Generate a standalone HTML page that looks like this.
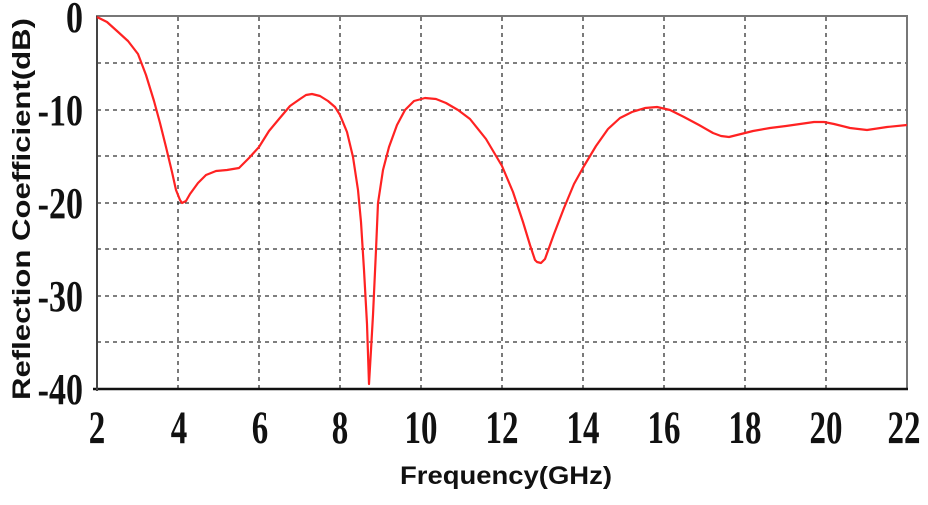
<!DOCTYPE html>
<html><head><style>body{margin:0;background:#fff}</style></head><body>
<svg width="928" height="500" xmlns="http://www.w3.org/2000/svg">
<g stroke="#333" stroke-width="1.3" stroke-dasharray="4,4">
<line x1="178" y1="17" x2="178" y2="389"/><line x1="259" y1="17" x2="259" y2="389"/><line x1="340" y1="17" x2="340" y2="389"/><line x1="421" y1="17" x2="421" y2="389"/><line x1="502" y1="17" x2="502" y2="389"/><line x1="583" y1="17" x2="583" y2="389"/><line x1="664" y1="17" x2="664" y2="389"/><line x1="745" y1="17" x2="745" y2="389"/><line x1="826" y1="17" x2="826" y2="389"/>
<line x1="97" y1="63" x2="907" y2="63"/><line x1="97" y1="110" x2="907" y2="110"/><line x1="97" y1="156" x2="907" y2="156"/><line x1="97" y1="203" x2="907" y2="203"/><line x1="97" y1="249" x2="907" y2="249"/><line x1="97" y1="296" x2="907" y2="296"/><line x1="97" y1="342" x2="907" y2="342"/>
</g>
<rect x="97" y="16" width="810" height="373" fill="none" stroke="#777" stroke-width="2"/>
<line x1="93" y1="389" x2="908" y2="389" stroke="#111" stroke-width="2.5"/>
<line x1="97" y1="16" x2="97" y2="391" stroke="#444" stroke-width="2"/>
<polyline fill="none" stroke="#f22" stroke-width="2.2" stroke-linejoin="round" points="97,17 107,22 117,31 128,41 138,54 146,75 154,101 160,123 166,147 172,172 176,190 180,200 182,203 186,201 190,194 198,183 206,175 216,171 227,170 239,168 249,158 259,147 269,131 279,119 290,106 300,99 306,95 312,94 320,96 328,101 335,107 340,115 347,132 353,157 358,190 361,222 364,270 367,324 369,384 371,350 373,315 376,250 378,203 383,170 389,147 397,125 405,110 414,101 425,98 436,99 446,103 458,110 470,119 486,139 502,166 513,192 523,222 530,245 535,260 537,262 541,263 545,259 554,234 564,208 574,184 584,166 596,146 608,129 620,118 632,112 645,108 657,107 670,110 684,117 699,125 713,133 721,136 729,137 741,134 753,131 770,128 786,126 800,124 814,122 824,122 834,124 850,128 867,130 887,127 907,125"/>
<g font-family="'Liberation Serif',serif" font-weight="bold" font-size="34" fill="#111" text-anchor="end">
<text transform="translate(83,32) scale(1,1.3)">0</text>
<text transform="translate(83,125) scale(1,1.3)">-10</text>
<text transform="translate(83,218) scale(1,1.3)">-20</text>
<text transform="translate(83,311) scale(1,1.3)">-30</text>
<text transform="translate(83,404) scale(1,1.3)">-40</text>
</g>
<g font-family="'Liberation Serif',serif" font-weight="bold" font-size="33" fill="#111" text-anchor="middle">
<text transform="translate(97,443) scale(1,1.4)">2</text>
<text transform="translate(179,443) scale(1,1.4)">4</text>
<text transform="translate(260,443) scale(1,1.4)">6</text>
<text transform="translate(340,443) scale(1,1.4)">8</text>
<text transform="translate(421,443) scale(1,1.4)">10</text>
<text transform="translate(502,443) scale(1,1.4)">12</text>
<text transform="translate(583,443) scale(1,1.4)">14</text>
<text transform="translate(664,443) scale(1,1.4)">16</text>
<text transform="translate(745,443) scale(1,1.4)">18</text>
<text transform="translate(826,443) scale(1,1.4)">20</text>
<text transform="translate(904,443) scale(1,1.4)">22</text>
</g>
<text x="400" y="484" textLength="212" lengthAdjust="spacingAndGlyphs" font-family="'Liberation Sans',sans-serif" font-weight="bold" font-size="25" fill="#111">Frequency(GHz)</text>
<text transform="translate(30,400) rotate(-90)" textLength="382" lengthAdjust="spacingAndGlyphs" font-family="'Liberation Sans',sans-serif" font-weight="bold" font-size="25" fill="#111">Reflection Coefficient(dB)</text>
</svg>
</body></html>
